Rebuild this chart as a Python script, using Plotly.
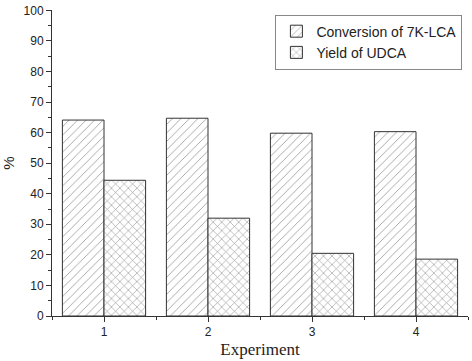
import plotly.graph_objects as go

experiments = [1, 2, 3, 4]
tick_labels = ["1", "2", "3", "4"]
conversion = [64.1, 64.7, 59.8, 60.3]
yield_udca = [44.4, 32.0, 20.5, 18.6]

line_col = "#333333"
fig = go.Figure()
fig.add_trace(go.Bar(
    x=experiments, y=conversion, name="Conversion of 7K-LCA",
    marker=dict(color="white", line=dict(color=line_col, width=1),
                pattern=dict(shape="/", fgcolor="#444444", bgcolor="white", size=6, solidity=0.15)),
))
fig.add_trace(go.Bar(
    x=experiments, y=yield_udca, name="Yield of UDCA",
    marker=dict(color="white", line=dict(color=line_col, width=1),
                pattern=dict(shape="x", fgcolor="#333333", bgcolor="white", size=6, solidity=0.2)),
))

fig.update_layout(
    width=472, height=361,
    margin=dict(l=52, r=4, t=7, b=45),
    paper_bgcolor="white", plot_bgcolor="white",
    barmode="group", bargap=0.2, bargroupgap=0,
    font=dict(family="Liberation Sans, Arial", size=12, color="#222222"),
    legend=dict(x=0.537, y=0.985, xanchor="left", yanchor="top",
                bordercolor="#888888", borderwidth=1, bgcolor="white",
                font=dict(size=14, family="Liberation Sans, Arial"),
                tracegroupgap=0, itemwidth=30),
    xaxis=dict(range=[0.5, 4.5], tickmode="array", tickvals=experiments, ticktext=tick_labels,
               showline=True, linecolor=line_col, linewidth=1, ticks="outside", ticklen=5,
               tickcolor=line_col, showgrid=False, zeroline=False,
               minor=dict(tick0=0.5, dtick=1, ticks="outside", ticklen=3, tickcolor=line_col),
               title=dict(text="Experiment", font=dict(family="Liberation Serif, Times New Roman", size=17),
                          standoff=4),
               tickfont=dict(size=12)),
    yaxis=dict(range=[0, 100.1], tickmode="array", tickvals=list(range(0, 101, 10)),
               showline=True, linecolor=line_col, linewidth=1,
               ticks="outside", ticklen=5, tickcolor=line_col, showgrid=False, zeroline=False,
               minor=dict(tick0=0, dtick=5, ticks="outside", ticklen=3, tickcolor=line_col),
               title=dict(text="%", font=dict(size=15), standoff=9),
               tickfont=dict(size=12)),
)

fig.write_html("out.html", config={"displayModeBar": False},
               post_script="document.body.style.margin='0';document.body.style.padding='0';")
